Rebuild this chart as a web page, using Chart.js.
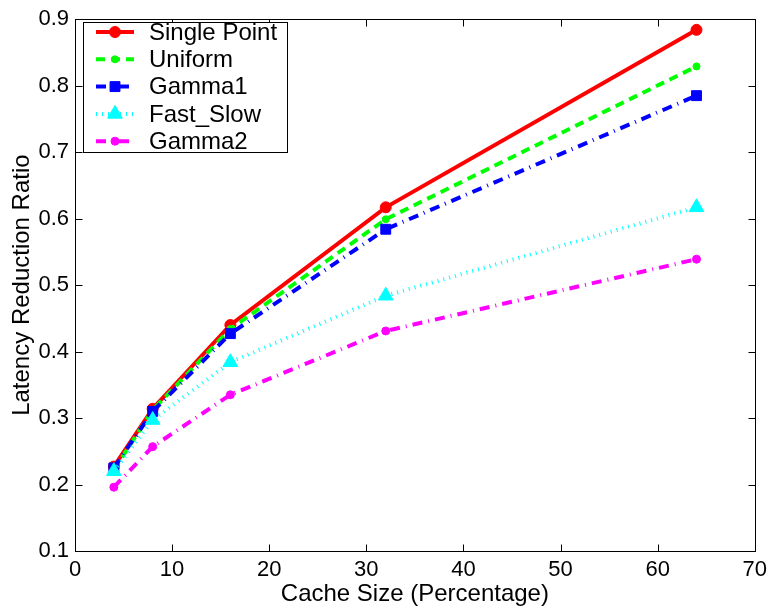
<!DOCTYPE html>
<html>
<head>
<meta charset="utf-8">
<script src="https://cdn.jsdelivr.net/npm/chart.js@4.4.1/dist/chart.umd.min.js"></script>
<style>
  html, body { margin: 0; padding: 0; background: #fff; }
  #c { display: block; }
</style>
</head>
<body>
<canvas id="c" width="773" height="616"></canvas>
<script>
// ---- Data ----
const cacheSizes = [4, 8, 16, 32, 64];
const singlePoint = [0.227, 0.314, 0.440, 0.617, 0.884];
const uniform     = [0.222, 0.312, 0.434, 0.599, 0.829];
const gamma1      = [0.225, 0.310, 0.427, 0.584, 0.785];
const fastSlow    = [0.220, 0.297, 0.384, 0.484, 0.617];
const gamma2      = [0.196, 0.257, 0.335, 0.431, 0.539];
const seriesNames = ['Single Point', 'Uniform', 'Gamma1', 'Fast_Slow', 'Gamma2'];
const xTicks = [0, 10, 20, 30, 40, 50, 60, 70];
const yTicks = [0.1, 0.2, 0.3, 0.4, 0.5, 0.6, 0.7, 0.8, 0.9];

const FONT = '"Liberation Sans", Arial, Helvetica, sans-serif';

function pts(vals) { return cacheSizes.map((x, i) => ({ x: x, y: vals[i] })); }

const styles = [
  { color: '#ff0000', dash: [],            width: 4, point: 'circle',   radius: 5.5, order: 5 },
  { color: '#00ff00', dash: [9, 6],        width: 4, point: 'circle',   radius: 3.5, order: 4 },
  { color: '#0000ff', dash: [10, 6, 1, 6], width: 4, point: 'rect',     radius: 7,   order: 3 },
  { color: '#00ffff', dash: [1, 5],        width: 4, point: 'triangle', radius: 8.5, order: 2 },
  { color: '#ff00ff', dash: [10, 6, 1, 6], width: 4, point: 'circle',   radius: 4,   order: 1 }
];
const seriesValues = [singlePoint, uniform, gamma1, fastSlow, gamma2];

const datasets = seriesNames.map((name, i) => ({
  label: name,
  data: pts(seriesValues[i]),
  borderColor: styles[i].color,
  backgroundColor: styles[i].color,
  borderWidth: styles[i].width,
  borderDash: styles[i].dash,
  pointStyle: styles[i].point,
  pointRadius: styles[i].radius,
  pointBorderWidth: 1,
  pointBackgroundColor: styles[i].color,
  pointBorderColor: styles[i].color,
  tension: 0,
  order: styles[i].order,
  clip: false
}));

function drawMarker(ctx, style, r, x, y, color) {
  ctx.save();
  ctx.setLineDash([]);
  ctx.fillStyle = color;
  ctx.strokeStyle = color;
  ctx.lineWidth = 1;
  ctx.beginPath();
  if (style === 'circle') {
    ctx.arc(x, y, r, 0, Math.PI * 2);
  } else if (style === 'rect') {
    const s = Math.SQRT1_2 * r;
    ctx.rect(x - s, y - s, 2 * s, 2 * s);
  } else if (style === 'triangle') {
    for (let k = 0; k < 3; k++) {
      const a = k * 2 * Math.PI / 3;
      const px = x + Math.sin(a) * r, py = y - Math.cos(a) * r;
      if (k === 0) ctx.moveTo(px, py); else ctx.lineTo(px, py);
    }
    ctx.closePath();
  }
  ctx.fill();
  ctx.stroke();
  ctx.restore();
}

const framePlugin = {
  id: 'frame',
  beforeDatasetsDraw(chart) {
    const { ctx, chartArea: a, scales } = chart;
    ctx.save();
    ctx.strokeStyle = '#000';
    ctx.lineWidth = 1;
    ctx.setLineDash([]);
    const L = Math.round(a.left) + 0.5, R = Math.round(a.right) + 0.5;
    const T = Math.round(a.top) + 0.5, B = Math.round(a.bottom) + 0.5;
    ctx.strokeRect(L, T, R - L, B - T);
    const tl = 7;
    ctx.beginPath();
    xTicks.forEach(v => {
      const px = Math.round(scales.x.getPixelForValue(v)) + 0.5;
      ctx.moveTo(px, B); ctx.lineTo(px, B - tl);
      ctx.moveTo(px, T); ctx.lineTo(px, T + tl);
    });
    yTicks.forEach(v => {
      const py = Math.round(scales.y.getPixelForValue(v)) + 0.5;
      ctx.moveTo(L, py); ctx.lineTo(L + tl, py);
      ctx.moveTo(R, py); ctx.lineTo(R - tl, py);
    });
    ctx.stroke();
    ctx.restore();
  },
  afterDatasetsDraw(chart) {
    const ctx = chart.ctx;
    ctx.save();
    const bx = 83.5, by = 22.5, bw = 204, bh = 130;
    ctx.fillStyle = '#fff';
    ctx.fillRect(bx, by, bw, bh);
    ctx.strokeStyle = '#000';
    ctx.lineWidth = 1;
    ctx.setLineDash([]);
    ctx.strokeRect(bx, by, bw, bh);
    seriesNames.forEach((name, i) => {
      const s = styles[i];
      const y = 32 + i * 27.3;
      ctx.save();
      ctx.strokeStyle = s.color;
      ctx.lineWidth = s.width;
      ctx.setLineDash(s.dash);
      ctx.beginPath();
      ctx.moveTo(96, y); ctx.lineTo(134, y);
      ctx.stroke();
      ctx.restore();
      drawMarker(ctx, s.point, s.radius, 115, y, s.color);
      ctx.fillStyle = '#000';
      ctx.font = '24px ' + FONT;
      ctx.textBaseline = 'middle';
      ctx.textAlign = 'left';
      ctx.fillText(name, 149, y + 1);
    });
    ctx.restore();
  }
};

new Chart(document.getElementById('c'), {
  type: 'line',
  data: { datasets: datasets },
  options: {
    responsive: false,
    animation: false,
    devicePixelRatio: 1,
    layout: { padding: { left: 0, right: 18, top: 15, bottom: 0 } },
    plugins: { legend: { display: false }, tooltip: { enabled: false } },
    scales: {
      x: {
        type: 'linear', min: 0, max: 70,
        afterBuildTicks: s => { s.ticks = xTicks.map(v => ({ value: v })); },
        afterFit: s => { s.height = 65; },
        grid: { display: false, drawTicks: false },
        border: { display: false },
        ticks: { color: '#000', font: { family: FONT, size: 22 }, padding: 6, maxRotation: 0, autoSkip: false,
                 callback: v => String(v) },
        title: { display: true, text: 'Cache Size (Percentage)', color: '#000',
                 font: { family: FONT, size: 24 }, padding: { top: 0, bottom: 7 } }
      },
      y: {
        type: 'linear', min: 0.1, max: 0.9,
        afterBuildTicks: s => { s.ticks = yTicks.map(v => ({ value: v })); },
        afterFit: s => { s.width = 75; },
        grid: { display: false, drawTicks: false },
        border: { display: false },
        ticks: { color: '#000', font: { family: FONT, size: 22 }, padding: 6, autoSkip: false,
                 callback: v => v.toFixed(1) },
        title: { display: true, text: 'Latency Reduction Ratio', color: '#000',
                 font: { family: FONT, size: 24 }, padding: { top: 8, bottom: 0 } }
      }
    }
  },
  plugins: [framePlugin]
});
</script>
</body>
</html>
